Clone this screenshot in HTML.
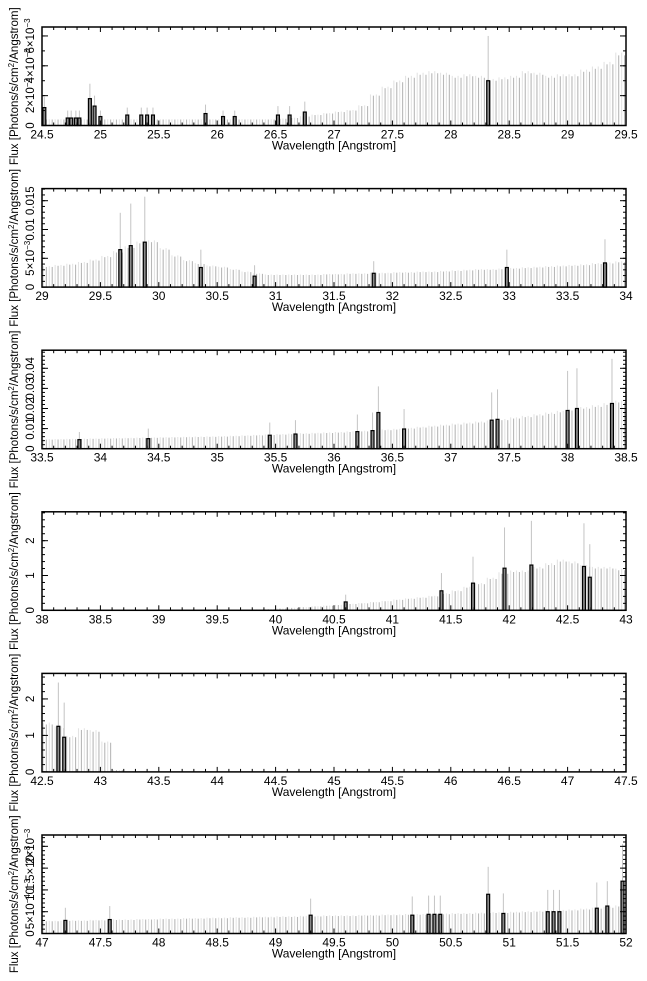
<!DOCTYPE html>
<html><head><meta charset="utf-8">
<style>
html,body{margin:0;padding:0;background:#fff;}
svg{display:block;font-family:"Liberation Sans",Arial,sans-serif;}
</style></head>
<body>
<svg id="chart" width="647" height="981" viewBox="0 0 647 981" xmlns="http://www.w3.org/2000/svg"></svg>
<script>
// ---- data (flux in display units per panel) ----
const p1Model = [0.4,0.4,0.4,0.4,0.4,0.4,0.4,0.4,0.4,0.4,0.4,0.4,0.4,0.4,0.4,0.4,0.4,0.4,0.4,0.4,0.45,0.5,0.6,0.7,0.8,0.9,1.0,1.3,2.0,2.5,2.9,3.2,3.4,3.5,3.4,3.2,3.3,3.2,3.0,3.1,3.2,3.5,3.4,3.2,3.3,3.3,3.6,3.8,4.1,4.7];
const p1BarX = [24.52,24.72,24.75,24.79,24.82,24.91,24.95,25.0,25.23,25.35,25.40,25.45,25.90,26.05,26.15,26.52,26.62,26.75,28.32];
const p1BarY = [1.2,0.5,0.5,0.5,0.5,1.8,1.3,0.6,0.7,0.7,0.7,0.7,0.8,0.6,0.6,0.7,0.7,0.9,3.0];
const p1Err  = [1.9,1.0,1.0,1.0,1.0,2.8,2.0,1.0,1.2,1.2,1.2,1.2,1.4,1.0,1.0,1.3,1.3,1.6,6.0];

const p2Model = [3.5,3.7,3.9,4.2,4.6,5.2,6.0,6.8,7.6,7.8,6.5,5.3,4.5,4.0,3.6,3.4,3.0,2.6,2.3,2.1,2.1,2.1,2.1,2.1,2.2,2.2,2.3,2.3,2.4,2.4,2.5,2.5,2.6,2.6,2.7,2.8,2.9,3.0,3.0,3.1,3.2,3.3,3.4,3.5,3.6,3.7,3.8,4.0,4.1,4.3];
const p2BarX = [29.67,29.76,29.88,30.36,30.82,31.84,32.98,33.82];
const p2BarY = [6.5,7.2,7.8,3.4,1.9,2.4,3.4,4.2];
const p2Err  = [12.9,14.5,15.7,6.5,3.8,4.5,6.5,8.3];

const p3Model = [4.5,4.6,4.7,4.8,4.9,5.0,5.1,5.2,5.3,5.4,5.5,5.6,5.7,5.8,5.9,6.0,6.2,6.4,6.6,6.8,7.0,7.2,7.4,7.6,7.8,8.0,8.3,8.6,8.9,9.2,9.5,10,10.5,11,11.5,12,12.5,13,13.5,14.2,15,15.7,16.5,17.3,18.1,19,19.9,20.8,21.8,23];
const p3BarX = [33.82,34.41,35.45,35.67,36.20,36.33,36.38,36.60,37.35,37.40,38.00,38.08,38.38];
const p3BarY = [4.5,5.0,6.7,7.3,8.5,9.0,18,9.8,14.2,14.6,19,20,22.5];
const p3Err  = [8.3,10,13,14.2,17,18,31,19.7,28,29.5,38.7,40,44.7];

const p4Model = [0,0,0,0,0,0,0,0,0,0,0,0,0,0,0,0,0,0,0.02,0.03,0.05,0.07,0.09,0.11,0.13,0.15,0.18,0.2,0.23,0.26,0.3,0.33,0.36,0.4,0.47,0.55,0.65,0.75,0.9,1.05,1.1,1.1,1.2,1.3,1.4,1.35,1.25,1.2,1.2,1.15];
const p4BarX = [40.60,41.42,41.69,41.96,42.19,42.64,42.69];
const p4BarY = [0.24,0.56,0.78,1.21,1.3,1.26,0.95];
const p4Err  = [0.45,1.07,1.54,2.38,2.57,2.5,1.9];

const p5Model = [1.3,1.2,0.95,1.15,1.1,0.8,0.05,0,0,0,0,0,0,0,0,0,0,0,0,0,0,0,0,0,0,0,0,0,0,0,0,0,0,0,0,0,0,0,0,0,0,0,0,0,0,0,0,0,0,0];
const p5BarX = [42.64,42.69];
const p5BarY = [1.25,0.95];
const p5Err  = [2.45,1.9];

const p6Model = [0.28,0.28,0.29,0.29,0.3,0.3,0.31,0.31,0.32,0.32,0.33,0.33,0.34,0.34,0.35,0.35,0.36,0.36,0.37,0.37,0.38,0.38,0.39,0.39,0.4,0.4,0.4,0.41,0.41,0.42,0.42,0.43,0.43,0.44,0.44,0.45,0.45,0.46,0.47,0.47,0.48,0.49,0.5,0.51,0.52,0.53,0.55,0.57,0.59,0.62];
const p6BarX = [47.20,47.58,49.30,50.17,50.31,50.36,50.41,50.82,50.95,51.33,51.38,51.43,51.75,51.84,51.97];
const p6BarY = [0.3,0.32,0.42,0.42,0.44,0.44,0.44,0.9,0.46,0.5,0.5,0.5,0.58,0.63,1.2];
const p6Err  = [0.59,0.63,0.8,0.85,0.87,0.87,0.87,1.53,0.92,1.0,1.0,1.0,1.17,1.2,2.05];

const xStarts = [24.5,29,33.5,38,42.5,47];
const yMaxes = [6.6,17.1,49,2.83,2.7,2.26];
const yTickVals = [[0,2,4,6],[0,5,10,15],[0,10,20,30,40],[0,1,2],[0,1,2],[0,0.5,1,1.5,2]];
const yTickLabels = [
  ["0","2×10|−3","4×10|−3","6×10|−3"],
  ["0","5×10|−3","0.01","0.015"],
  ["0","0.01","0.02","0.03","0.04"],
  ["0","1","2"],["0","1","2"],
  ["0","5×10|−4","10|−3","1.5×10|−3","2×10|−3"]];
const yMinorStep = [1,1,2,0.2,0.2,0.1];
const models=[p1Model,p2Model,p3Model,p4Model,p5Model,p6Model];
const barXs=[p1BarX,p2BarX,p3BarX,p4BarX,p5BarX,p6BarX];
const barYs=[p1BarY,p2BarY,p3BarY,p4BarY,p5BarY,p6BarY];
const errs=[p1Err,p2Err,p3Err,p4Err,p5Err,p6Err];

const svg=document.getElementById('chart');
const NS='http://www.w3.org/2000/svg';
function mk(tag,attrs,parent){const e=document.createElementNS(NS,tag);for(const k in attrs)e.setAttribute(k,attrs[k]);parent.appendChild(e);return e;}
const L=42,R=626,H=98.5,SP=161.6,T0=27;
const BIN=0.025;

for(let p=0;p<6;p++){
  const top=T0+SP*p, bot=top+H, x0=xStarts[p], ymax=yMaxes[p];
  const xs=v=>L+(v-x0)/5*(R-L);
  const ys=v=>bot-Math.min(v,ymax)/ymax*H;
  const g=mk('g',{},svg);
  
  
  // model lines
  const mg=mk('g',{},g);
  
  
  models[p].forEach((v,i)=>{
    if(v<=0) return;
    for(let k=0;k<4;k++){
      const wx=x0+i*0.1+BIN*(k+0.5);
      const ln=mk('line',{x1:xs(wx),x2:xs(wx),y1:bot,y2:ys(v*(k%2?1:1.04)),stroke:(k%2?'#b8b8b8':'#e4e4e4'),'stroke-width':1.1},mg);
      
      
    }
  });
  // data bars with errors
  const bg=mk('g',{},g);
  
  
  barXs[p].forEach((bx,i)=>{
    const cx=xs(bx);
    const el=mk('line',{x1:cx,x2:cx,y1:ys(barYs[p][i]),y2:ys(errs[p][i]),stroke:'#c4c4c4','stroke-width':1},bg);
    
    
    const w=xs(bx+BIN/2)-xs(bx-BIN/2);
    const r=mk('rect',{x:cx-w/2,y:ys(barYs[p][i]),width:w,height:bot-ys(barYs[p][i]),fill:'#8a8a8a',stroke:'#000','stroke-width':1.2},bg);
    
    
  });
  // frame
  const fr=mk('rect',{x:L,y:top,width:R-L,height:H,fill:'none',stroke:'#000','stroke-width':1.5},g);
  
  
  // x ticks
  for(let t=0;t<=50;t++){
    const X=xs(x0+t*0.1), len=(t%5==0)?5:3;
    mk('line',{x1:X,x2:X,y1:bot,y2:bot-len,stroke:'#000','stroke-width':1},g);
    mk('line',{x1:X,x2:X,y1:top,y2:top+len,stroke:'#000','stroke-width':1},g);
    if(t%5==0){
      const tx=mk('text',{x:X,y:bot+13,'font-size':12,'text-anchor':'middle',fill:'#000'},g);
      
      
      tx.textContent=String(Math.round((x0+t*0.1)*10)/10);
    }
  }
  // y minor ticks
  for(let v=0;v<=ymax+1e-9;v+=yMinorStep[p]){
    const Y=ys(v);
    mk('line',{x1:L,x2:L+3,y1:Y,y2:Y,stroke:'#000','stroke-width':1},g);
    mk('line',{x1:R,x2:R-3,y1:Y,y2:Y,stroke:'#000','stroke-width':1},g);
  }
  yTickVals[p].forEach((v,i)=>{
    const Y=ys(v);
    mk('line',{x1:L,x2:L+6,y1:Y,y2:Y,stroke:'#000','stroke-width':1},g);
    mk('line',{x1:R,x2:R-6,y1:Y,y2:Y,stroke:'#000','stroke-width':1},g);
    const tx=mk('text',{x:0,y:0,'font-size':11.5,'text-anchor':'middle',transform:'translate(34,'+Y+') rotate(-90)',fill:'#000'},g);
    
    
    const parts=yTickLabels[p][i].split('|');
    const a=document.createElementNS(NS,'tspan');a.textContent=parts[0];tx.appendChild(a);
    if(parts[1]){const s=document.createElementNS(NS,'tspan');s.setAttribute('dy','-4');s.setAttribute('font-size','8');s.textContent=parts[1];tx.appendChild(s);}
  });
  // axis titles
  const xt=mk('text',{x:(L+R)/2,y:bot+24,'font-size':12,'text-anchor':'middle',fill:'#000'},g);
  
  
  xt.textContent='Wavelength [Angstrom]';
  const yt=mk('text',{x:0,y:0,'font-size':11.5,'text-anchor':'middle',transform:'translate(18,'+(top+H/2+10)+') rotate(-90)',fill:'#000'},g);
  
  
  const t1=document.createElementNS(NS,'tspan');t1.textContent='Flux [Photons/s/cm';yt.appendChild(t1);
  const t2=document.createElementNS(NS,'tspan');t2.setAttribute('dy','-4');t2.setAttribute('font-size','8');t2.textContent='2';yt.appendChild(t2);
  const t3=document.createElementNS(NS,'tspan');t3.setAttribute('dy','4');t3.textContent='/Angstrom]';yt.appendChild(t3);
}
</script>
</body></html>
